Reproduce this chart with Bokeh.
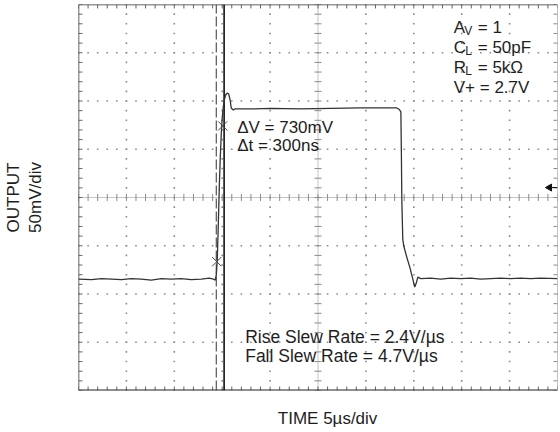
import numpy as np
from bokeh.plotting import figure
from bokeh.models import Range1d, LinearAxis, FixedTicker
from bokeh.embed import file_html
from bokeh.resources import INLINE
from bokeh.core.properties import value

# ---------------- data (time in µs, output in mV) ----------------
time_us = [0.00, 1.35, 2.40, 3.44, 4.48, 5.52, 6.56, 7.60, 8.65, 9.69, 10.73, 11.77,
           12.81, 13.65, 14.06, 14.27, 14.38, 14.48, 14.58, 14.69, 14.79, 14.90,
           15.00, 15.10, 15.21, 15.36, 15.52, 15.68, 15.83, 15.94, 16.15, 16.35,
           18.02, 20.10, 23.23, 26.35, 29.48, 32.60, 33.23, 33.49, 33.65, 33.70,
           33.75, 33.85, 33.96, 34.27, 34.58, 34.90, 35.10, 35.26, 35.42, 35.73,
           36.77, 37.81, 38.85, 39.90, 40.94, 41.98, 43.02, 44.06, 45.10, 46.15,
           47.19, 48.23, 50.00]
output_mv = [115.5, 114.9, 116.0, 115.5, 114.9, 116.0, 115.5, 114.4, 116.0, 115.5,
             116.0, 114.9, 115.5, 116.5, 115.5, 114.4, 119.6, 134.0, 167.0, 208.2,
             239.2, 264.9, 282.5, 292.8, 301.0, 306.2, 308.2, 307.2, 301.0, 292.8,
             290.7, 291.8, 291.8, 292.3, 291.8, 292.3, 292.8, 292.8, 292.8, 291.2,
             288.7, 249.5, 197.9, 156.7, 149.5, 138.1, 127.8, 115.5, 107.2, 111.3,
             117.5, 116.0, 116.5, 115.5, 116.5, 116.0, 116.5, 115.5, 116.0, 116.5,
             116.0, 116.5, 116.0, 116.5, 116.0]

cursor_dashed_us = 14.38
cursor_solid_us = 15.20
marker_t = [15.05, 14.43]
marker_v = [274.2, 133.5]
trigger_level_mv = 210.3

X_DIVS, Y_DIVS = 10, 8
US_PER_DIV, MV_PER_DIV = 5, 50
MINOR = 5

conditions = ["A", "C", "R"]
condition_subs = ["V", "L", "L"]
condition_rest = ["= 1", "= 50pF", "= 5k\u03a9"]
supply_text = "V+ = 2.7V"
delta_texts = ["\u0394V = 730mV", "\u0394t = 300ns"]
slew_texts = ["Rise Slew Rate = 2.4V/\u00b5s", "Fall Slew Rate = 4.7V/\u00b5s"]
x_label = "TIME 5\u00b5s/div"
y_label_1 = "OUTPUT"
y_label_2 = "50mV/div"
x_label_at_us = 26
y_label_at_mv = 200

# ---------------- figure ----------------
XMAX = X_DIVS * US_PER_DIV
YMAX = Y_DIVS * MV_PER_DIV
FW, FH = 480, 388
px_x = FW / XMAX   # px per µs
px_y = FH / YMAX   # px per mV

FONT = "Liberation Sans"
TXT = "#1e1e1e"
GRID = "#8a8a8a"

p = figure(width=558, height=430, output_backend="svg", toolbar_location=None,
           x_range=Range1d(0, XMAX), y_range=Range1d(0, YMAX),
           min_border_left=77, min_border_right=1, min_border_top=4,
           min_border_bottom=38, x_axis_location=None, y_axis_location=None)
p.grid.visible = False
p.outline_line_color = None
p.background_fill_color = "white"


def label_axis(ax, standoff):
    ax.axis_line_color = None
    ax.major_tick_line_color = None
    ax.minor_tick_line_color = None
    ax.major_tick_out = 0
    ax.minor_tick_out = 0
    ax.major_label_standoff = standoff
    ax.major_label_text_font = FONT
    ax.major_label_text_font_size = "17px"
    ax.major_label_text_color = TXT


xa = LinearAxis(ticker=FixedTicker(ticks=[x_label_at_us], minor_ticks=[]),
                major_label_overrides={x_label_at_us: x_label})
label_axis(xa, 18)
p.add_layout(xa, "below")

ya = LinearAxis(ticker=FixedTicker(ticks=[y_label_at_mv], minor_ticks=[]),
                major_label_overrides={y_label_at_mv: y_label_2},
                major_label_orientation="vertical", axis_label=y_label_1)
label_axis(ya, 34)
ya.axis_label_standoff = 0
ya.axis_label_text_font = FONT
ya.axis_label_text_font_size = "17px"
ya.axis_label_text_font_style = "normal"
ya.axis_label_text_color = TXT
p.add_layout(ya, "left")

# dotted lattice along major grid lines (not centre, not border)
maj_x = [i * US_PER_DIV for i in range(1, X_DIVS) if i != X_DIVS // 2]
maj_y = [j * MV_PER_DIV for j in range(1, Y_DIVS) if j != Y_DIVS // 2]
minor_x = np.arange(0, XMAX + 1e-9, US_PER_DIV / MINOR)
minor_y = np.arange(0, YMAX + 1e-9, MV_PER_DIV / MINOR)
dx, dy = [], []
for gx in maj_x:
    dx += [gx] * len(minor_y)
    dy += list(minor_y)
for gy in maj_y:
    dx += list(minor_x)
    dy += [gy] * len(minor_x)
p.scatter(dx, dy, marker="square", size=1.6, color=GRID, line_color=None)

# centre cross lines
cx, cy = XMAX / 2, YMAX / 2
p.line([cx, cx], [0, YMAX], line_color=GRID, line_width=1, line_dash="1 1")
p.line([0, XMAX], [cy, cy], line_color=GRID, line_width=1, line_dash="1 1")
t = 3.5
p.segment(x0=[cx - t / px_x] * len(minor_y), y0=list(minor_y),
          x1=[cx + t / px_x] * len(minor_y), y1=list(minor_y), line_color=GRID, line_width=1)
p.segment(x0=list(minor_x), y0=[cy - t / px_y] * len(minor_x),
          x1=list(minor_x), y1=[cy + t / px_y] * len(minor_x), line_color=GRID, line_width=1)

# border ticks (inward)
bt = 4
p.segment(x0=[0] * len(minor_y), y0=list(minor_y), x1=[bt / px_x] * len(minor_y), y1=list(minor_y),
          line_color="#666", line_width=1)
p.segment(x0=[XMAX] * len(minor_y), y0=list(minor_y), x1=[XMAX - bt / px_x] * len(minor_y),
          y1=list(minor_y), line_color="#888", line_width=1)
p.segment(x0=list(minor_x), y0=[YMAX] * len(minor_x), x1=list(minor_x),
          y1=[YMAX - bt / px_y] * len(minor_x), line_color="#666", line_width=1)
p.segment(x0=list(minor_x), y0=[0] * len(minor_x), x1=list(minor_x),
          y1=[bt / px_y] * len(minor_x), line_color="#666", line_width=1)

# border
p.line([XMAX, XMAX], [0, YMAX], line_color="#888", line_width=1)
p.line([0, XMAX], [YMAX, YMAX], line_color="#333", line_width=1.5)
p.line([0, 0], [0, YMAX], line_color="#333", line_width=1.5)
p.line([0, XMAX], [0, 0], line_color="#222", line_width=2)

# cursors
p.line([cursor_dashed_us] * 2, [0, YMAX], line_color="#333", line_width=1, line_dash="10 3")
p.line([cursor_solid_us] * 2, [0, YMAX], line_color="#111", line_width=1.6)

# trace
p.line(time_us, output_mv, line_color="#333333", line_width=1.3)

# cursor cross markers
p.scatter(marker_t, marker_v, marker="x", size=13, line_color="#444", line_width=1)

# trigger level arrow
ax_ = XMAX - 8 / px_x
p.scatter([ax_], [trigger_level_mv], marker="triangle", angle=np.pi / 2, size=7,
          fill_color="#111", line_color="#111")
p.line([ax_, XMAX], [trigger_level_mv] * 2, line_color="#111", line_width=1)


# annotations
def txt(x, y, s, size="17px", xo=0, yo=0):
    p.text(x=[x], y=[y], text=[s], text_font=value(FONT), text_font_size=size,
           text_color=TXT, text_align="left", text_baseline="middle",
           x_offset=xo, y_offset=yo)


txt(16.56, 272.2, delta_texts[0])
txt(16.56, 253.6, delta_texts[1])
txt(17.40, 55.7, slew_texts[0], size="17.5px")
txt(17.40, 36.1, slew_texts[1], size="17.5px")

rx = 39.17
rys = [376.3, 355.7, 335.1]
main_w = {"A": 11.0, "C": 12.0, "R": 12.0}
sub_w = {"V": 8.0, "L": 7.0}
for c, s, r, y in zip(conditions, condition_subs, condition_rest, rys):
    txt(rx, y, c)
    txt(rx, y, s, size="12px", xo=main_w[c] - 0.5, yo=4)
    txt(rx, y, r, xo=main_w[c] + sub_w[s] + 5)
txt(rx, 314.4, supply_text)

open("out.html", "w").write(file_html(p, INLINE))
